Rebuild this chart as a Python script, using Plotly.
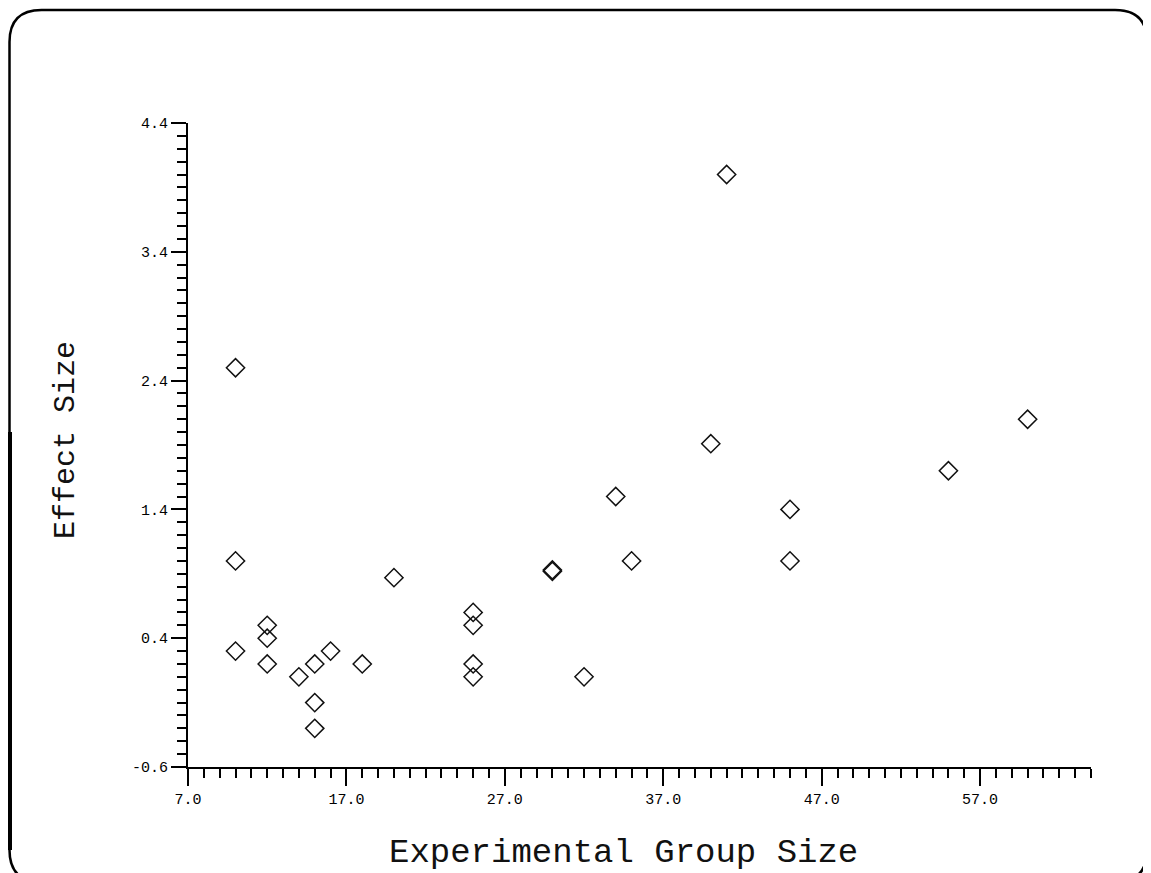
import plotly.graph_objects as go

# ---- data ----
group_size = [10, 10, 10, 12, 12, 12, 14, 15, 15, 15, 16, 18, 20,
              25, 25, 25, 25, 30, 30, 32, 34, 35, 40, 41, 45, 45, 55, 60]
effect_size = [2.5, 1.0, 0.3, 0.5, 0.4, 0.2, 0.1, 0.2, -0.1, -0.3, 0.3, 0.2, 0.87,
               0.6, 0.5, 0.2, 0.1, 0.92, 0.93, 0.1, 1.5, 1.0, 1.91, 4.0, 1.4, 1.0, 1.7, 2.1]

x_tick_vals = [7, 17, 27, 37, 47, 57]
x_tick_text = ["7.0", "17.0", "27.0", "37.0", "47.0", "57.0"]
y_tick_vals = [-0.6, 0.4, 1.4, 2.4, 3.4, 4.4]
y_tick_text = ["-0.6", "0.4", "1.4", "2.4", "3.4", "4.4"]

x_title = "Experimental Group Size"
y_title = "Effect Size"

# ---- layout geometry (the page body adds an 8px offset) ----
OFF = 8
W, H = 1151 - OFF, 873 - OFF
ML, MT = 188 - OFF, 123 - OFF
PLOT_R, PLOT_B = 1091 - OFF, 767 - OFF
MR, MB = W - PLOT_R, H - PLOT_B
PW, PH = W - ML - MR, H - MT - MB


def px(x):
    """screen pixel x -> paper coordinate"""
    return (x - OFF - ML) / PW


def py(y):
    """screen pixel y -> paper coordinate"""
    return (H - MB - (y - OFF)) / PH


FONT = "Liberation Mono, DejaVu Sans Mono, monospace"
INK = "#111111"

fig = go.Figure()
fig.add_trace(go.Scatter(
    x=group_size, y=effect_size, mode="markers",
    marker=dict(symbol="diamond-open", size=14, color=INK,
                line=dict(width=1.5, color=INK)),
    showlegend=False, hoverinfo="x+y",
))

axis_common = dict(
    showline=True, linecolor="black", linewidth=2,
    ticks="outside", tickcolor="black", tickwidth=2,
    showgrid=False, zeroline=False,
    tickfont=dict(family=FONT, size=15, color="black"),
    tickmode="array",
)

fig.update_xaxes(
    **axis_common, range=[7, 64], tickvals=x_tick_vals, ticktext=x_tick_text,
    ticklen=17,
    minor=dict(tick0=7, dtick=1, ticks="outside", ticklen=9,
               tickwidth=2, tickcolor="black", showgrid=False),
)
fig.update_yaxes(
    **axis_common, range=[-0.6, 4.4], tickvals=y_tick_vals, ticktext=y_tick_text,
    ticklen=15,
    minor=dict(tick0=-0.6, dtick=0.1, ticks="outside", ticklen=9,
               tickwidth=2, tickcolor="black", showgrid=False),
)

# rounded frame around the whole picture
L, R, T, B, r = 9.5, 1147, 10, 882, 32
frame = (f"M {px(L + r)},{py(T)} L {px(R - r)},{py(T)} "
         f"Q {px(R)},{py(T)} {px(R)},{py(T + r)} "
         f"L {px(R)},{py(B - r)} Q {px(R)},{py(B)} {px(R - r)},{py(B)} "
         f"L {px(L + r)},{py(B)} Q {px(L)},{py(B)} {px(L)},{py(B - r)} "
         f"L {px(L)},{py(T + r)} Q {px(L)},{py(T)} {px(L + r)},{py(T)} Z")

fig.update_layout(
    width=W, height=H,
    margin=dict(l=ML, r=MR, t=MT, b=MB),
    paper_bgcolor="white", plot_bgcolor="white",
    shapes=[
        dict(type="path", xref="paper", yref="paper", path=frame,
             line=dict(color="black", width=2.5), layer="above"),
        dict(type="line", xref="paper", yref="paper",
             x0=px(L + 0.5), x1=px(L + 0.5), y0=py(432), y1=py(B - r),
             line=dict(color="black", width=4), layer="above"),
    ],
    annotations=[
        dict(text=x_title, xref="paper", yref="paper",
             x=px(623), y=py(853), xanchor="center", yanchor="middle",
             showarrow=False, font=dict(family=FONT, size=34, color=INK)),
        dict(text=y_title, xref="paper", yref="paper",
             x=px(66), y=py(440), xanchor="center", yanchor="middle",
             textangle=-90, showarrow=False,
             font=dict(family=FONT, size=30, color=INK)),
    ],
)

fig.write_html("out.html")
